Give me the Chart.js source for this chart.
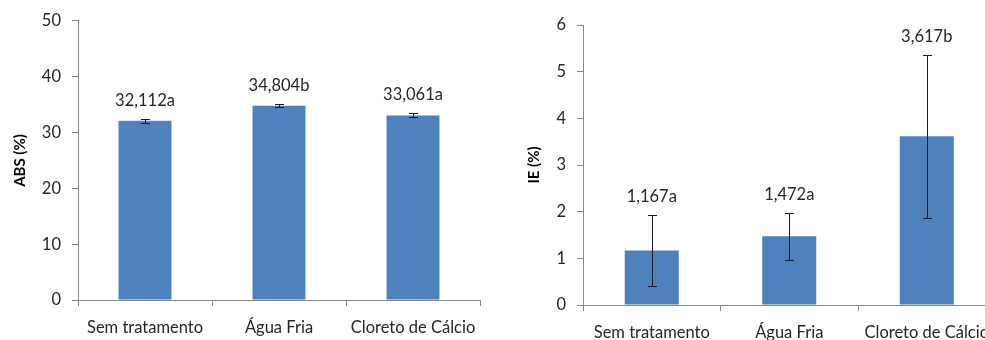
<!DOCTYPE html>
<html>
<head>
<meta charset="utf-8">
<script src="https://cdn.jsdelivr.net/npm/chart.js@4"></script>
<style>
  html, body { margin: 0; padding: 0; background: #fff; overflow: hidden; width: 985px; height: 340px; }
  #absBox { position: absolute; left: 0; top: 0; width: 490px; height: 340px; }
  #ieBox { position: absolute; left: 495px; top: 0; width: 520px; height: 340px; }
</style>
</head>
<body>
<div id="absBox"><canvas id="absChart" width="490" height="340"></canvas></div>
<div id="ieBox"><canvas id="ieChart" width="520" height="340"></canvas></div>
<script>
// Treatments shared by both panels
const treatments = ['Sem tratamento', 'Água Fria', 'Cloreto de Cálcio'];

// ABS (%) panel
const absMeans = [32.112, 34.804, 33.061];
const absErrors = [0.4, 0.3, 0.35];
const absLetters = ['a', 'b', 'a'];
const absAxis = { min: 0, max: 50, step: 10 };

// IE (%) panel
const ieMeans = [1.167, 1.472, 3.617];
const ieErrors = [0.76, 0.51, 1.75];
const ieLetters = ['a', 'a', 'b'];
const ieAxis = { min: 0, max: 6, step: 1 };

const FONT = 'Lato, "Open Sans", sans-serif';
const TEXT = '#262626';
const AXIS = '#868686';
const BAR = '#4F81BD';

// Error bars with caps, plus the mean/letter label above each bar
const errorAndLabels = {
  id: 'errorAndLabels',
  afterDatasetsDraw(chart, args, opts) {
    const ctx = chart.ctx;
    const y = chart.scales.y;
    const meta = chart.getDatasetMeta(0);
    ctx.save();
    meta.data.forEach((bar, i) => {
      const v = opts.means[i], e = opts.errors[i];
      const x = Math.round(bar.x) + 0.5;
      const yTop = Math.round(y.getPixelForValue(v + e)) + 0.5;
      const yBot = Math.round(y.getPixelForValue(v - e)) + 0.5;
      ctx.strokeStyle = '#1a1a1a';
      ctx.lineWidth = 1;
      ctx.beginPath();
      ctx.moveTo(x, yTop); ctx.lineTo(x, yBot);
      ctx.moveTo(x - 4.5, yTop); ctx.lineTo(x + 4.5, yTop);
      ctx.moveTo(x - 4.5, yBot); ctx.lineTo(x + 4.5, yBot);
      ctx.stroke();
      ctx.fillStyle = TEXT;
      ctx.font = '16.5px ' + FONT;
      ctx.textAlign = 'center';
      ctx.textBaseline = 'middle';
      const txt = v.toFixed(3).replace('.', ',') + opts.letters[i];
      ctx.fillText(txt, bar.x, yTop - 19);
    });
    ctx.restore();
  }
};

function makeChart(canvasId, means, errors, letters, axis, title, geom) {
  return new Chart(document.getElementById(canvasId), {
    type: 'bar',
    data: {
      labels: treatments,
      datasets: [{
        data: means,
        backgroundColor: BAR,
        borderWidth: 0,
        categoryPercentage: 1,
        barPercentage: geom.barPct
      }]
    },
    plugins: [errorAndLabels],
    options: {
      responsive: false,
      devicePixelRatio: 1,
      animation: false,
      layout: { padding: { top: geom.top, right: geom.right, left: 0, bottom: 0 } },
      plugins: {
        legend: { display: false },
        tooltip: { enabled: false },
        errorAndLabels: { means, errors, letters }
      },
      scales: {
        x: {
          offset: true,
          grid: { offset: true, drawOnChartArea: false, drawTicks: true, tickLength: 6, color: AXIS },
          border: { display: true, color: AXIS, width: 1 },
          ticks: { color: TEXT, font: { family: FONT, size: 16.5 }, padding: 12, maxRotation: 0, autoSkip: false },
          afterFit(s) { s.height = geom.xHeight; }
        },
        y: {
          min: axis.min,
          max: axis.max,
          grid: { drawOnChartArea: false, drawTicks: true, tickLength: 6, color: AXIS },
          border: { display: true, color: AXIS, width: 1 },
          ticks: { stepSize: axis.step, color: TEXT, font: { family: FONT, size: 16.5 }, padding: 11 },
          title: { display: true, text: title, color: '#000', font: { family: FONT, size: 15, weight: 'bold' }, padding: { top: geom.titlePad, bottom: 0 } },
          afterFit(s) { s.width = geom.yWidth; }
        }
      }
    }
  });
}

makeChart('absChart', absMeans, absErrors, absLetters, absAxis, 'ABS (%)',
  { top: 19, right: 10, xHeight: 40, yWidth: 78, titlePad: 11, barPct: 0.395 });
makeChart('ieChart', ieMeans, ieErrors, ieLetters, ieAxis, 'IE (%)',
  { top: 25, right: 19.5, xHeight: 35, yWidth: 88, titlePad: 30, barPct: 0.393 });
</script>
</body>
</html>
